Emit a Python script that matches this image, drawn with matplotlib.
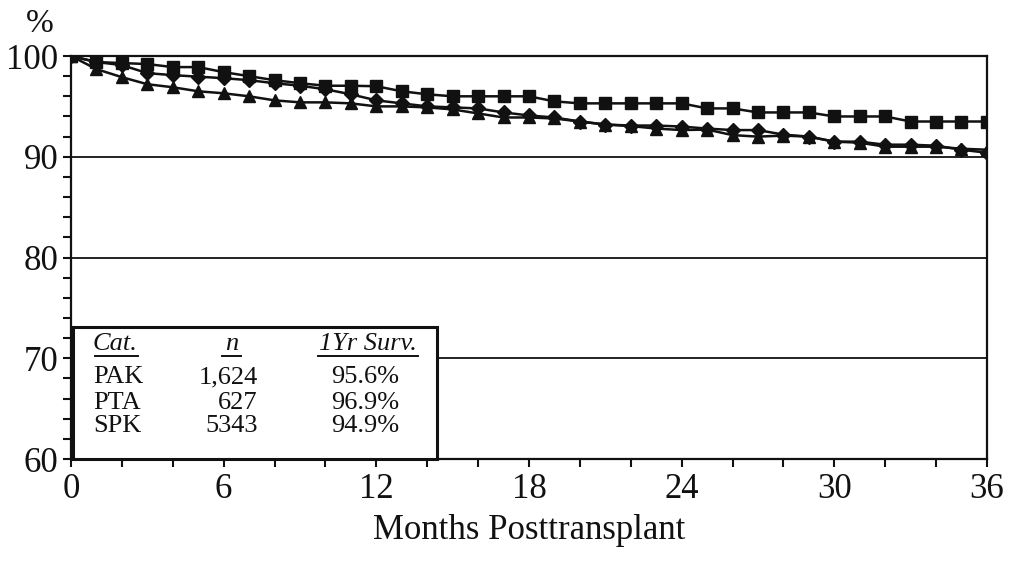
import numpy as np
import matplotlib
matplotlib.use("Agg")
import matplotlib.pyplot as plt
from matplotlib.patches import Rectangle
from matplotlib.ticker import MultipleLocator

# =============================================================================
# data (graft survival, % by month)
# =============================================================================
months = list(range(0, 37))

pta = [100, 99.4, 99.3, 99.2, 98.9, 98.9, 98.4, 98.0, 97.6, 97.3, 97.05, 97.05, 97.0,
       96.5, 96.2, 96.0, 96.0, 96.0, 96.0, 95.5, 95.3, 95.3, 95.3, 95.3, 95.3,
       94.8, 94.8, 94.4, 94.4, 94.4, 94.0, 94.0, 94.0, 93.5, 93.5, 93.5, 93.5]

pak = [100, 99.4, 99.1, 98.3, 98.1, 97.95, 97.8, 97.6, 97.3, 97.05, 96.7, 96.2, 95.6,
       95.3, 95.0, 94.9, 94.8, 94.4, 94.1, 93.9, 93.5, 93.2, 93.1, 93.1, 93.0,
       92.8, 92.65, 92.65, 92.2, 92.0, 91.5, 91.5, 91.2, 91.2, 91.1, 90.7, 90.4]

spk = [100, 98.7, 97.9, 97.2, 96.9, 96.5, 96.3, 96.0, 95.6, 95.4, 95.4, 95.3, 95.0,
       95.0, 94.9, 94.7, 94.3, 93.9, 93.9, 93.8, 93.5, 93.2, 93.05, 92.8, 92.65,
       92.7, 92.15, 92.0, 92.1, 92.0, 91.5, 91.4, 91.0, 91.0, 91.0, 90.8, 90.7]

table_cats = ["PAK", "PTA", "SPK"]
table_n = ["1,624", "627", "5343"]
table_surv = ["95.6%", "96.9%", "94.9%"]

# =============================================================================
# plot
# =============================================================================
plt.rcParams['font.family'] = ['Liberation Serif', 'DejaVu Serif']
ink = "#111111"

fig = plt.figure(figsize=(10.11, 5.64), dpi=100)
ax = fig.add_axes([0.0702, 0.186, 0.9060, 0.7147])

for y in [90, 80, 70]:
    ax.axhline(y, color=ink, lw=1.3, zorder=1)

ax.plot(months, pta, color=ink, lw=1.8, marker="s", ms=8, zorder=3)
ax.plot(months, pak, color=ink, lw=1.8, marker="D", ms=7, zorder=3)
ax.plot(months, spk, color=ink, lw=1.8, marker="^", ms=8.5, zorder=3)

ax.set_xlim(0, 36)
ax.set_ylim(60, 100)
ax.set_xticks(range(0, 37, 6))
ax.set_yticks(range(60, 101, 10))
ax.xaxis.set_minor_locator(MultipleLocator(2))
ax.yaxis.set_minor_locator(MultipleLocator(2))
ax.tick_params(which="both", direction="out", length=6, width=1.5, colors=ink,
               labelsize=25, top=False, right=False)
ax.tick_params(axis="x", pad=4)
ax.tick_params(axis="y", pad=3)
for s in ax.spines.values():
    s.set_color(ink)
    s.set_linewidth(1.6)
ax.set_xlabel("Months Posttransplant", fontsize=25, color=ink, labelpad=6)

fig.text(40 / 1011, 1 - 24 / 564, "%", fontsize=24, color=ink,
         ha="center", va="center")

# table box in the lower left corner
ax.add_patch(Rectangle((0.002, 0.0), 0.3976, 0.3275, transform=ax.transAxes,
                       facecolor="white", edgecolor=ink, lw=2.2, zorder=4,
                       clip_on=False))

fs = 19
hy = 0.286
ax.text(0.048, hy, "Cat.", style="italic", fontsize=fs, ha="center", va="center",
        transform=ax.transAxes, zorder=5, color=ink)
ax.text(0.175, hy, "n", style="italic", fontsize=fs, ha="center", va="center",
        transform=ax.transAxes, zorder=5, color=ink)
ax.text(0.324, hy, "1Yr Surv.", style="italic", fontsize=fs, ha="center", va="center",
        transform=ax.transAxes, zorder=5, color=ink)
for x0, x1 in [(0.026, 0.073), (0.165, 0.186), (0.27, 0.379)]:
    ax.plot([x0, x1], [0.255, 0.255], color=ink, lw=1.4, transform=ax.transAxes,
            zorder=5, clip_on=False)

rows_y = [0.203, 0.139, 0.082]
for i in range(3):
    ax.text(0.024, rows_y[i], table_cats[i], fontsize=fs, ha="left", va="center",
            transform=ax.transAxes, zorder=5, color=ink)
    ax.text(0.204, rows_y[i], table_n[i], fontsize=fs, ha="right", va="center",
            transform=ax.transAxes, zorder=5, color=ink)
    ax.text(0.321, rows_y[i], table_surv[i], fontsize=fs, ha="center", va="center",
            transform=ax.transAxes, zorder=5, color=ink)

fig.savefig("out.png", dpi=100)
